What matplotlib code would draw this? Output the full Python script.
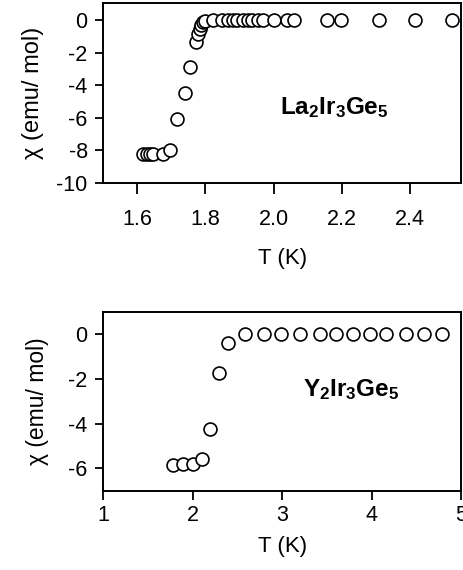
import matplotlib
matplotlib.use("Agg")
import matplotlib.pyplot as plt

plt.rcParams['font.family'] = ['Liberation Sans', 'DejaVu Sans']
plt.rcParams['mathtext.fontset'] = 'custom'
plt.rcParams['mathtext.rm'] = 'Liberation Sans'
plt.rcParams['mathtext.bf'] = 'Liberation Sans:bold'
plt.rcParams['axes.unicode_minus'] = False

# La2Ir3Ge5 data
t_la = [1.618, 1.629, 1.638, 1.647, 1.677, 1.695, 1.716, 1.739, 1.756, 1.773,
        1.778, 1.783, 1.788, 1.793, 1.799, 1.823, 1.849, 1.867, 1.882, 1.893,
        1.911, 1.926, 1.937, 1.955, 1.970, 2.002, 2.040, 2.060, 2.157, 2.198,
        2.310, 2.415, 2.524]
chi_la = [-8.22, -8.22, -8.22, -8.22, -8.2, -7.95, -6.07, -4.5, -2.87, -1.33,
          -0.84, -0.56, -0.3, -0.15, -0.05, 0, 0, 0, 0, 0,
          0, 0, 0, 0, 0, 0, 0, 0, 0, 0,
          0, 0, 0]

# Y2Ir3Ge5 data
t_y = [1.78, 1.89, 2.0, 2.10, 2.20, 2.30, 2.40, 2.59, 2.80, 2.99, 3.2, 3.42,
       3.6, 3.79, 3.98, 4.16, 4.38, 4.58, 4.79]
chi_y = [-5.85, -5.82, -5.79, -5.6, -4.23, -1.74, -0.4, 0, 0, 0, 0, 0,
         0, 0, 0, 0, 0, 0, 0]

fig = plt.figure(figsize=(4.64, 5.70), dpi=100)
ax1 = fig.add_axes([0.222, 0.679, 0.772, 0.316])
ax2 = fig.add_axes([0.222, 0.139, 0.772, 0.313])

mk = dict(linestyle='none', marker='o', markersize=9.3, markerfacecolor='white',
          markeredgecolor='black', markeredgewidth=1.2)
ax1.plot(t_la, chi_la, **mk)
ax2.plot(t_y, chi_y, **mk)

ax1.set_xlim(1.5, 2.55)
ax1.set_ylim(-10, 1.05)
ax1.set_xticks([1.6, 1.8, 2.0, 2.2, 2.4])
ax1.set_xticklabels(['1.6', '1.8', '2.0', '2.2', '2.4'])
ax1.set_yticks([0, -2, -4, -6, -8, -10])

ax2.set_xlim(1, 5)
ax2.set_ylim(-7, 0.97)
ax2.set_xticks([1, 2, 3, 4, 5])
ax2.set_yticks([0, -2, -4, -6])

for ax in (ax1, ax2):
    for s in ax.spines.values():
        s.set_linewidth(1.4)
    ax.tick_params(direction='out', length=6, width=1.3, labelsize=15.5,
                   top=False, right=False)
    ax.tick_params(axis='y', pad=5)

# top panel: longer x ticks, more room under them
ax1.tick_params(axis='x', length=8, pad=11)
ax1.set_xlabel('T (K)', fontsize=16, labelpad=13)
ax1.set_ylabel('χ (emu/ mol)', fontsize=17, labelpad=9)

ax2.tick_params(axis='x', length=6.5, pad=4)
ax2.set_xlabel('T (K)', fontsize=16, labelpad=7)
ax2.set_ylabel('χ (emu/ mol)', fontsize=16.5, labelpad=14)

ax1.text(0.645, 0.42, r'$\mathbf{La_2Ir_3Ge_5}$', transform=ax1.transAxes,
         fontsize=17.5, ha='center', va='center')
ax2.text(0.693, 0.57, r'$\mathbf{Y_2Ir_3Ge_5}$', transform=ax2.transAxes,
         fontsize=17.5, ha='center', va='center')

fig.savefig('out.png', dpi=100)
